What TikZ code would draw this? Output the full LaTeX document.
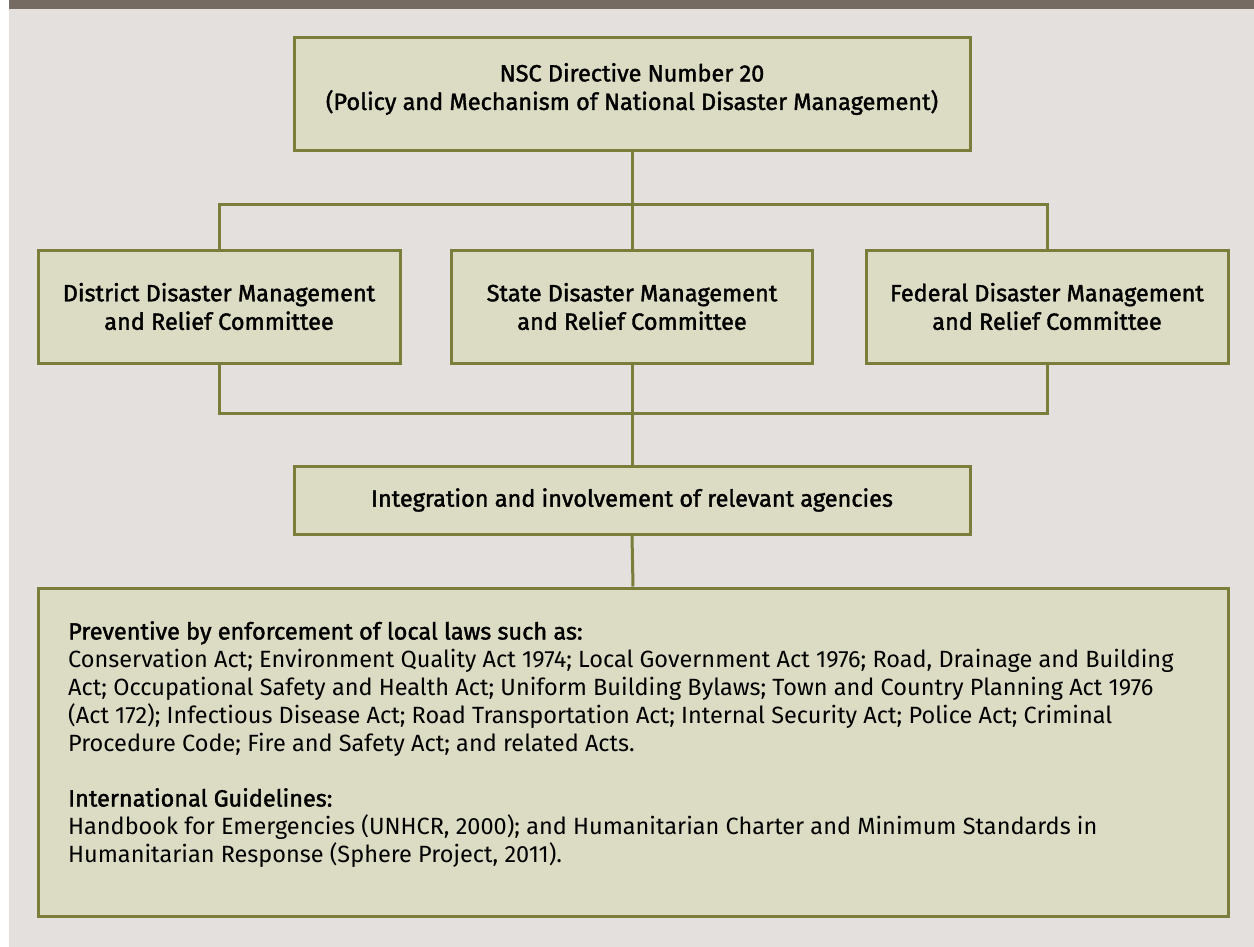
\documentclass[tikz,border=0pt]{standalone}
\usepackage{fontspec}
\setmainfont{Fira Sans}
\newfontfamily\headfont{Fira Sans}[FakeBold=1.6]
\begin{document}
\definecolor{olive}{HTML}{7A7E3A}
\definecolor{boxfill}{HTML}{DCDCC4}
\definecolor{paper}{HTML}{E4E0DD}
\definecolor{band}{HTML}{766B62}
\begin{tikzpicture}[x=1pt,y=-1pt,
  box/.style={draw=olive,fill=boxfill,line width=3pt,rectangle,inner sep=0pt,
    align=center,font=\fontsize{23.5}{28.5}\headfont},
  link/.style={draw=olive,line width=3pt}]
\useasboundingbox (0,0) rectangle (1254,947);
% page background and top band
\fill[white] (0,0) rectangle (1254,947);
\fill[paper] (9,0) rectangle (1254,947);
\fill[band] (9,0) rectangle (1254,9);

% boxes
\node[box,minimum width=676pt,minimum height=113pt] (top) at (632,94.5) {};
\node[box,draw=none,fill=none] (toptext) at (632,89)
  {NSC Directive Number 20\\(Policy and Mechanism of National Disaster Management)};
\node[box,minimum width=362pt,minimum height=113pt] (dist) at (219,306.5)
  {District Disaster Management\\and Relief Committee};
\node[box,minimum width=361pt,minimum height=113pt] (state) at (632,306.5)
  {State Disaster Management\\and Relief Committee};
\node[box,minimum width=362pt,minimum height=113pt] (fed) at (1047,306.5)
  {Federal Disaster Management\\and Relief Committee};
\node[box,minimum width=676pt,minimum height=68pt] (integ) at (632,500)
  {Integration and involvement of relevant agencies};
\node[box,minimum width=1190pt,minimum height=328pt] (laws) at (633,752) {};
\node[anchor=north west,align=left,inner sep=0pt,
  font=\fontsize{23.5}{28}\selectfont] (lawtext) at (68,621)
  {{\headfont Preventive by enforcement of local laws such as:}\\
   Conservation Act; Environment Quality Act 1974; Local Government Act 1976; Road, Drainage and Building\\
   Act; Occupational Safety and Health Act; Uniform Building Bylaws; Town and Country Planning Act 1976\\
   (Act 172); Infectious Disease Act; Road Transportation Act; Internal Security Act; Police Act; Criminal\\
   Procedure Code; Fire and Safety Act; and related Acts.\\[27pt]
   {\headfont International Guidelines:}\\
   Handbook for Emergencies (UNHCR, 2000); and Humanitarian Charter and Minimum Standards in\\
   Humanitarian Response (Sphere Project, 2011).};

% connectors
\coordinate (j1) at (632,205);
\coordinate (j2) at (632,413);
\draw[link] (top.south) -- (j1);
\draw[link] (dist.north) |- (j1) -| (fed.north);
\draw[link] (j1) -- (state.north);
\draw[link] (dist.south) |- (j2) -| (fed.south);
\draw[link] (state.south) -- (integ.north);
\draw[link] (integ.south) -- (laws.north);
\end{tikzpicture}
\end{document}
